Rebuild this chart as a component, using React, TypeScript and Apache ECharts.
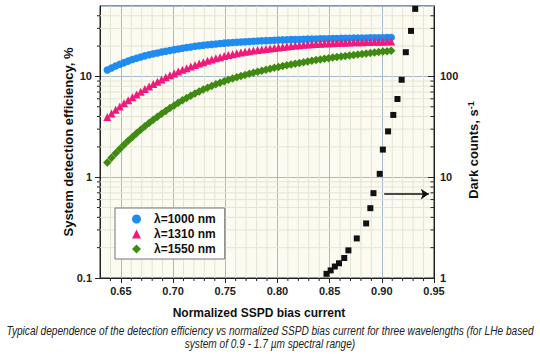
import React, { useEffect, useRef } from "react";
import * as echarts from "echarts";

const biasCurrent = [
  0.637, 0.641, 0.645, 0.649, 0.653, 0.657, 0.661, 0.665, 0.669, 0.673,
  0.677, 0.681, 0.685, 0.689, 0.693, 0.697, 0.701, 0.705, 0.709, 0.713,
  0.717, 0.721, 0.725, 0.729, 0.733, 0.737, 0.741, 0.745, 0.749, 0.753,
  0.757, 0.761, 0.765, 0.769, 0.773, 0.777, 0.781, 0.785, 0.789, 0.793,
  0.797, 0.801, 0.805, 0.809, 0.813, 0.817, 0.821, 0.825, 0.829, 0.833,
  0.837, 0.841, 0.845, 0.849, 0.853, 0.857, 0.861, 0.865, 0.869, 0.873,
  0.877, 0.881, 0.885, 0.889, 0.893, 0.897, 0.901, 0.905, 0.909,
];

const eff1000 = [
  11.6, 12.15, 12.7, 13.2, 13.7, 14.2, 14.7, 15.15, 15.6, 16.0,
  16.4, 16.75, 17.1, 17.45, 17.8, 18.1, 18.45, 18.75, 19.05, 19.35,
  19.6, 19.9, 20.15, 20.4, 20.6, 20.8, 21.0, 21.2, 21.4, 21.55,
  21.7, 21.85, 22.0, 22.1, 22.25, 22.35, 22.45, 22.55, 22.65, 22.75,
  22.85, 22.95, 23.05, 23.1, 23.2, 23.25, 23.3, 23.4, 23.45, 23.5,
  23.55, 23.6, 23.65, 23.7, 23.75, 23.8, 23.85, 23.9, 23.95, 24.0,
  24.0, 24.05, 24.1, 24.15, 24.2, 24.2, 24.25, 24.3, 24.3,
];

const eff1310 = [
  3.95, 4.3, 4.66, 5.03, 5.41, 5.8, 6.2, 6.61, 7.03, 7.5,
  7.95, 8.41, 8.87, 9.33, 9.79, 10.25, 10.71, 11.17, 11.63, 12.08,
  12.53, 12.98, 13.42, 13.86, 14.29, 14.71, 15.12, 15.52, 15.91, 16.28,
  16.63, 16.96, 17.27, 17.56, 17.83, 18.08, 18.32, 18.55, 18.77, 18.98,
  19.18, 19.38, 19.6, 19.85, 20.1, 20.3, 20.45, 20.6, 20.75, 20.9,
  21.0, 21.1, 21.2, 21.3, 21.4, 21.5, 21.55, 21.65, 21.7, 21.8,
  21.85, 21.9, 21.95, 22.0, 22.05, 22.1, 22.15, 22.2, 22.2,
];

const eff1550 = [
  1.4, 1.56, 1.73, 1.91, 2.1, 2.3, 2.51, 2.73, 2.96, 3.2,
  3.45, 3.71, 3.98, 4.26, 4.55, 4.85, 5.16, 5.48, 5.8, 6.12,
  6.44, 6.76, 7.08, 7.4, 7.72, 8.04, 8.35, 8.66, 8.96, 9.25,
  9.53, 9.81, 10.09, 10.36, 10.63, 10.9, 11.16, 11.42, 11.68, 11.93,
  12.18, 12.43, 12.67, 12.91, 13.15, 13.39, 13.62, 13.85, 14.08, 14.3,
  14.52, 14.74, 14.96, 15.17, 15.38, 15.58, 15.78, 15.98, 16.17, 16.36,
  16.55, 16.74, 16.92, 17.1, 17.28, 17.46, 17.63, 17.8, 17.97,
];

const darkBias = [
  0.847, 0.851, 0.855, 0.859, 0.864, 0.868, 0.876, 0.885, 0.889, 0.892,
  0.898, 0.901, 0.906, 0.911, 0.915, 0.919, 0.923, 0.928, 0.932,
];
const darkCounts = [
  1.1, 1.19, 1.3, 1.4, 1.58, 1.88, 2.47, 3.48, 4.93, 6.95,
  10.8, 18.8, 28.5, 41.5, 59.7, 92.7, 174, 283, 468,
];

const legendNames = ["λ=1000 nm", "λ=1310 nm", "λ=1550 nm"];

const xMinorTicks = [
  0.64, 0.66, 0.67, 0.68, 0.69, 0.71, 0.72, 0.73, 0.74, 0.76, 0.77, 0.78, 0.79,
  0.81, 0.82, 0.83, 0.84, 0.86, 0.87, 0.88, 0.89, 0.91, 0.92, 0.93, 0.94,
];
const leftMinorTicks = [
  0.2, 0.3, 0.4, 0.5, 0.6, 0.7, 0.8, 0.9, 2, 3, 4, 5, 6, 7, 8, 9, 20, 30, 40,
];
const rightMinorTicks = [
  2, 3, 4, 5, 6, 7, 8, 9, 20, 30, 40, 50, 60, 70, 80, 90, 200, 300, 400,
];

const arrowFrom = [0.9023, 6.8];
const arrowTo = [0.945, 6.8];

const captionLines = [
  "Typical dependence of the detection efficiency vs normalized SSPD bias current for three wavelengths (for LHe based",
  "system of 0.9 - 1.7 µm spectral range)",
];

const X_MIN = 0.63;
const X_MAX = 0.95;
const YL_MIN = 0.1;
const YL_MAX = 50;
const YR_MIN = 1;
const YR_MAX = 500;

const FONT = '"Liberation Sans", Arial, sans-serif';
const MINOR_GRID = "#e3e5d3";
const MAJOR_GRID = "#a6b9cf";
const AXIS = "#222";

function logLabel(v: number) {
  if (v < 1) return v.toFixed(1);
  return String(Math.round(v));
}

export default function App() {
  const ref = useRef<HTMLDivElement>(null);

  useEffect(() => {
    if (!ref.current) return;
    const chart = echarts.init(ref.current, undefined, { renderer: "svg" });

    const captionFont = `italic 12.5px ${FONT}`;
    let scaleX = 0.76;
    try {
      const ctx = document.createElement("canvas").getContext("2d");
      if (ctx) {
        ctx.font = captionFont;
        const w = ctx.measureText(captionLines[0]).width;
        if (w > 0) scaleX = 528 / w;
      }
    } catch (e) {}

    const option: any = {
      animation: false,
      grid: {
        left: 100,
        right: 106,
        top: 6,
        bottom: 76,
        show: true,
        backgroundColor: "#fbfbf1",
        borderColor: AXIS,
        borderWidth: 1,
      },
      legend: {
        data: legendNames,
        orient: "vertical",
        left: 115,
        top: 208,
        backgroundColor: "#ffffff",
        borderColor: "#777",
        borderWidth: 1,
        borderRadius: 0,
        padding: [4, 9, 3, 17],
        itemGap: 1,
        itemWidth: 9,
        itemHeight: 9,
        symbolKeepAspect: true,
        textStyle: {
          fontFamily: FONT,
          fontWeight: "bold",
          fontSize: 12,
          color: "#111",
          lineHeight: 14,
          padding: [0, 0, 0, 8],
        },
      },
      xAxis: {
        type: "value",
        min: X_MIN,
        max: X_MAX,
        splitNumber: 6,
        name: "Normalized SSPD bias current",
        nameLocation: "middle",
        nameGap: 29,
        nameMoveOverlap: false,
        nameTextStyle: {
          fontFamily: FONT,
          fontWeight: "bold",
          fontSize: 12,
          color: "#111",
          padding: [0, 16, 0, 0],
        },
        axisLine: { show: true, lineStyle: { color: AXIS, width: 1 } },
        axisTick: { show: true, inside: false, length: 5, lineStyle: { color: AXIS } },
        axisLabel: {
          fontFamily: FONT,
          fontWeight: "bold",
          fontSize: 11,
          color: "#222",
          margin: 7,
          showMinLabel: false,
          formatter: (v: number) => v.toFixed(2),
        },
        splitLine: { show: true, lineStyle: { color: MAJOR_GRID, width: 1 } },
      },
      yAxis: [
        {
          type: "log",
          logBase: 10,
          min: YL_MIN,
          max: YL_MAX,
          position: "left",
          name: "System detection efficiency, %",
          nameLocation: "middle",
          nameGap: 25,
          nameMoveOverlap: false,
          nameRotate: 90,
          nameTextStyle: {
            fontFamily: FONT,
            fontWeight: "bold",
            fontSize: 13,
            color: "#111",
          },
          axisLine: { show: true, lineStyle: { color: AXIS, width: 1 } },
          axisTick: { show: true, inside: false, length: 5, lineStyle: { color: AXIS } },
          axisLabel: {
            fontFamily: FONT,
            fontWeight: "bold",
            fontSize: 11,
            color: "#222",
            margin: 8,
            showMaxLabel: false,
            formatter: logLabel,
          },
          splitLine: { show: true, lineStyle: { color: MAJOR_GRID, width: 1 } },
        },
        {
          type: "log",
          logBase: 10,
          min: YR_MIN,
          max: YR_MAX,
          position: "right",
          name: "Dark counts, s{sup|-1}",
          nameLocation: "middle",
          nameGap: 32,
          nameMoveOverlap: false,
          nameRotate: 90,
          nameTextStyle: {
            fontFamily: FONT,
            fontWeight: "bold",
            fontSize: 13,
            color: "#111",
            padding: [0, 16, 0, 0],
            rich: {
              sup: {
                fontFamily: FONT,
                fontWeight: "bold",
                fontSize: 9,
                color: "#111",
                verticalAlign: "top",
                padding: [0, 0, 6, 0],
              },
            },
          },
          axisLine: { show: true, lineStyle: { color: AXIS, width: 1 } },
          axisTick: { show: true, inside: true, length: 6, lineStyle: { color: AXIS } },
          axisLabel: {
            fontFamily: FONT,
            fontWeight: "bold",
            fontSize: 11,
            color: "#222",
            margin: 6,
            showMaxLabel: false,
            formatter: logLabel,
          },
          splitLine: { show: false },
        },
      ],
      graphic: captionLines.map((t, i) => ({
        type: "text",
        x: 270,
        y: 331 + i * 12.5,
        scaleX,
        silent: true,
        style: {
          text: t,
          font: captionFont,
          fill: "#222",
          textAlign: "center",
          textVerticalAlign: "middle",
          verticalAlign: "middle",
        },
      })),
      series: [
        {
          type: "custom",
          coordinateSystem: "cartesian2d",
          xAxisIndex: 0,
          yAxisIndex: 0,
          silent: true,
          clip: false,
          z: 1,
          data: xMinorTicks.map((v) => [v, 1]),
          renderItem: (params: any, api: any) => {
            const x = api.value(0);
            const top = api.coord([x, YL_MAX]);
            const bot = api.coord([x, YL_MIN]);
            return {
              type: "group",
              children: [
                {
                  type: "line",
                  shape: { x1: top[0], y1: top[1], x2: bot[0], y2: bot[1] },
                  style: { stroke: MINOR_GRID, lineWidth: 1 },
                },
                {
                  type: "line",
                  shape: { x1: bot[0], y1: bot[1], x2: bot[0], y2: bot[1] + 3 },
                  style: { stroke: AXIS, lineWidth: 1 },
                },
              ],
            };
          },
        },
        {
          type: "custom",
          coordinateSystem: "cartesian2d",
          xAxisIndex: 0,
          yAxisIndex: 0,
          silent: true,
          clip: false,
          z: 1,
          data: leftMinorTicks.map((v) => [0.8, v]),
          renderItem: (params: any, api: any) => {
            const y = api.value(1);
            const l = api.coord([X_MIN, y]);
            const r = api.coord([X_MAX, y]);
            return {
              type: "group",
              children: [
                {
                  type: "line",
                  shape: { x1: l[0], y1: l[1], x2: r[0], y2: r[1] },
                  style: { stroke: MINOR_GRID, lineWidth: 1 },
                },
                {
                  type: "line",
                  shape: { x1: l[0] - 3, y1: l[1], x2: l[0], y2: l[1] },
                  style: { stroke: AXIS, lineWidth: 1 },
                },
              ],
            };
          },
        },
        {
          type: "custom",
          coordinateSystem: "cartesian2d",
          xAxisIndex: 0,
          yAxisIndex: 1,
          silent: true,
          clip: false,
          z: 1,
          data: rightMinorTicks.map((v) => [0.8, v]),
          renderItem: (params: any, api: any) => {
            const y = api.value(1);
            const r = api.coord([X_MAX, y]);
            return {
              type: "line",
              shape: { x1: r[0] - 3.5, y1: r[1], x2: r[0], y2: r[1] },
              style: { stroke: AXIS, lineWidth: 1 },
            };
          },
        },
        {
          name: legendNames[0],
          type: "scatter",
          yAxisIndex: 0,
          symbol: "circle",
          symbolSize: 7.5,
          symbolKeepAspect: true,
          itemStyle: { color: "#1e8cf0", opacity: 1 },
          z: 4,
          data: biasCurrent.map((x, i) => [x, eff1000[i]]),
        },
        {
          name: legendNames[1],
          type: "scatter",
          yAxisIndex: 0,
          symbol: "triangle",
          symbolSize: 8,
          symbolKeepAspect: true,
          itemStyle: { color: "#f01a7c", opacity: 1 },
          z: 4,
          data: biasCurrent.map((x, i) => [x, eff1310[i]]),
        },
        {
          name: legendNames[2],
          type: "scatter",
          yAxisIndex: 0,
          symbol: "diamond",
          symbolSize: 8.5,
          symbolKeepAspect: true,
          itemStyle: { color: "#3f8a12", opacity: 1 },
          z: 4,
          data: biasCurrent.map((x, i) => [x, eff1550[i]]),
        },
        {
          name: "Dark counts",
          type: "scatter",
          yAxisIndex: 1,
          symbol: "rect",
          symbolSize: 6,
          itemStyle: { color: "#111", opacity: 1 },
          z: 4,
          data: darkBias.map((x, i) => [x, darkCounts[i]]),
          markLine: {
            silent: true,
            symbol: ["none", "arrow"],
            symbolSize: 8,
            label: { show: false },
            lineStyle: { color: "#111", width: 1.5, type: "solid" },
            data: [[{ coord: arrowFrom }, { coord: arrowTo }]],
          },
        },
      ],
    };

    chart.setOption(option);
    return () => chart.dispose();
  }, []);

  return (
    <div
      ref={ref}
      style={{ position: "absolute", left: 0, top: 0, width: 540, height: 354, background: "#fff" }}
    />
  );
}
